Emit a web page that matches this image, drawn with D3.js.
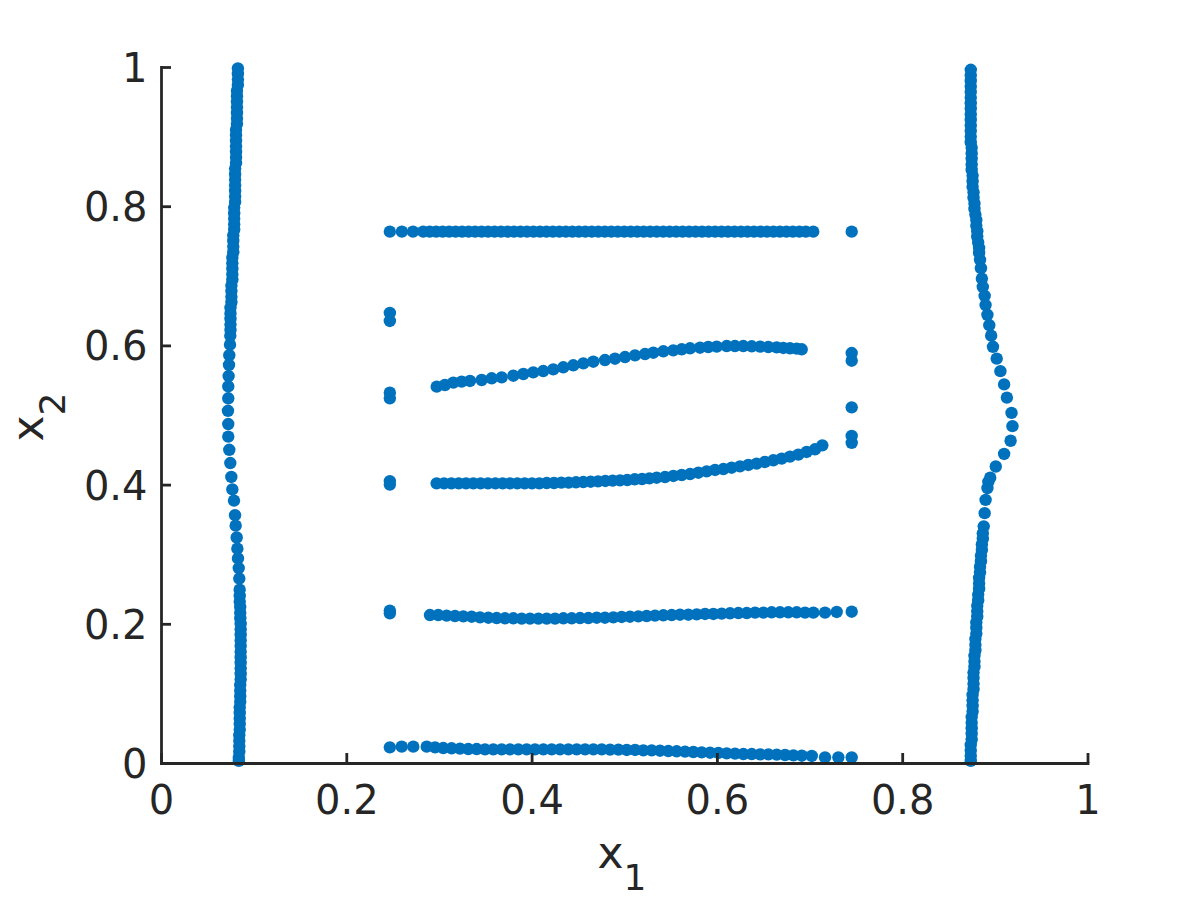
<!DOCTYPE html>
<html>
<head>
<meta charset="utf-8">
<script src="https://cdn.jsdelivr.net/npm/d3@7"></script>
<style>
  body { margin: 0; background: #fff; }
  .axis path, .axis line { stroke: #262626; stroke-width: 2.8; }
  .axis text { fill: #262626; font-family: "DejaVu Sans", sans-serif; font-size: 40px; }
  .axis-label { fill: #262626; font-family: "DejaVu Sans", sans-serif; font-size: 44px; }
  .dot { fill: #0072BD; }
</style>
</head>
<body>
<svg width="1200" height="900"></svg>
<script>
var svg = d3.select('svg');

// Tick values shared by both axes
var tickValues = [0, 0.2, 0.4, 0.6, 0.8, 1];

// Each series is a list of [x1, x2] points
var leftBand = [
  [0.083,0.998],[0.083,0.990],[0.083,0.982],[0.083,0.974],[0.082,0.966],[0.082,0.958],[0.082,0.950],[0.082,0.942],
  [0.082,0.934],[0.082,0.926],[0.082,0.918],[0.081,0.910],[0.081,0.902],[0.081,0.894],[0.081,0.886],[0.081,0.878],
  [0.081,0.870],[0.081,0.862],[0.080,0.854],[0.080,0.846],[0.080,0.838],[0.080,0.830],[0.080,0.822],[0.080,0.814],
  [0.080,0.806],[0.079,0.798],[0.079,0.790],[0.079,0.782],[0.079,0.774],[0.079,0.766],[0.078,0.758],[0.078,0.750],
  [0.078,0.742],[0.078,0.734],[0.077,0.726],[0.077,0.718],[0.077,0.710],[0.077,0.702],[0.077,0.694],[0.076,0.686],
  [0.076,0.678],[0.076,0.670],[0.076,0.662],[0.075,0.654],[0.075,0.646],[0.075,0.638],[0.075,0.630],[0.075,0.622],
  [0.0748,0.614],[0.0745,0.601],[0.0737,0.586],[0.0734,0.572],[0.0730,0.556],[0.0726,0.541],[0.0726,0.524],
  [0.0723,0.506],[0.0726,0.487],[0.0726,0.469],[0.0737,0.450],[0.0748,0.431],[0.0759,0.411],[0.0770,0.393],
  [0.0788,0.377],[0.0799,0.356],[0.0806,0.341],[0.0817,0.324],[0.0824,0.308],[0.0831,0.294],[0.0839,0.280],
  [0.0845,0.265],[0.0849,0.249],[0.085,0.240],[0.085,0.232],[0.0855,0.224],[0.0855,0.216],[0.0856,0.208],
  [0.086,0.200],[0.086,0.192],[0.086,0.184],[0.086,0.176],[0.086,0.168],[0.086,0.160],[0.086,0.152],[0.086,0.144],
  [0.086,0.136],[0.086,0.128],[0.086,0.120],[0.0855,0.112],[0.0855,0.104],[0.0855,0.096],[0.0855,0.088],
  [0.085,0.080],[0.085,0.072],[0.085,0.064],[0.085,0.056],[0.085,0.048],[0.0845,0.040],[0.0845,0.032],
  [0.0845,0.024],[0.0845,0.016],[0.084,0.008],[0.084,0.003]
];

var rightBand = [
  [0.874,0.996],[0.874,0.988],[0.874,0.980],[0.874,0.972],[0.874,0.964],[0.874,0.956],[0.874,0.948],[0.874,0.940],
  [0.874,0.932],[0.874,0.924],[0.874,0.916],[0.874,0.908],[0.874,0.900],[0.874,0.892],[0.875,0.884],[0.875,0.876],
  [0.875,0.868],[0.875,0.860],[0.875,0.852],[0.876,0.844],[0.876,0.836],[0.876,0.828],[0.877,0.820],[0.877,0.812],
  [0.878,0.804],[0.878,0.796],[0.879,0.788],[0.880,0.780],[0.880,0.772],[0.881,0.764],[0.881,0.756],[0.882,0.748],
  [0.883,0.740],[0.883,0.733],[0.884,0.723],[0.885,0.711],[0.886,0.696],[0.887,0.684],[0.889,0.671],[0.890,0.658],
  [0.892,0.644],[0.894,0.629],[0.896,0.614],[0.898,0.598],[0.902,0.581],[0.906,0.563],[0.910,0.544],[0.913,0.525],
  [0.918,0.503],[0.919,0.484],[0.917,0.463],[0.910,0.444],[0.901,0.426],[0.895,0.410],[0.893,0.404],[0.892,0.395],
  [0.890,0.378],[0.889,0.359],[0.888,0.340],[0.887,0.330],[0.887,0.322],[0.886,0.314],[0.886,0.306],[0.885,0.298],
  [0.885,0.290],[0.884,0.282],[0.884,0.274],[0.883,0.266],[0.883,0.258],[0.883,0.250],[0.882,0.242],[0.882,0.234],
  [0.881,0.226],[0.881,0.218],[0.881,0.210],[0.880,0.202],[0.880,0.194],[0.880,0.186],[0.879,0.178],[0.879,0.170],
  [0.879,0.162],[0.878,0.154],[0.878,0.146],[0.878,0.138],[0.877,0.130],[0.877,0.122],[0.877,0.114],[0.877,0.106],
  [0.876,0.098],[0.876,0.090],[0.876,0.082],[0.876,0.074],[0.875,0.066],[0.875,0.058],[0.875,0.050],[0.875,0.042],
  [0.875,0.034],[0.874,0.026],[0.874,0.018],[0.874,0.010],[0.874,0.003]
];

var rowTop = [
  [0.260,0.7634],[0.272,0.7634],[0.283,0.7634],[0.290,0.7634],[0.297,0.7634],[0.304,0.7634],[0.311,0.7634],
  [0.318,0.7634],[0.325,0.7634],[0.332,0.7634],[0.339,0.7634],[0.346,0.7634],[0.353,0.7634],[0.360,0.7634],
  [0.367,0.7634],[0.374,0.7634],[0.381,0.7634],[0.388,0.7634],[0.395,0.7634],[0.402,0.7634],[0.409,0.7634],
  [0.416,0.7634],[0.423,0.7634],[0.430,0.7634],[0.437,0.7634],[0.444,0.7634],[0.451,0.7634],[0.458,0.7634],
  [0.465,0.7634],[0.472,0.7634],[0.479,0.7634],[0.486,0.7634],[0.493,0.7634],[0.500,0.7634],[0.507,0.7634],
  [0.514,0.7634],[0.521,0.7634],[0.528,0.7634],[0.535,0.7634],[0.542,0.7634],[0.549,0.7634],[0.556,0.7634],
  [0.563,0.7634],[0.570,0.7634],[0.577,0.7634],[0.584,0.7634],[0.591,0.7634],[0.598,0.7634],[0.605,0.7634],
  [0.612,0.7634],[0.619,0.7634],[0.626,0.7634],[0.633,0.7634],[0.640,0.7634],[0.647,0.7634],[0.654,0.7634],
  [0.661,0.7634],[0.668,0.7634],[0.675,0.7634],[0.682,0.7634],[0.689,0.7634],[0.696,0.7634],[0.704,0.7634]
];

var rowUpperCurve = [
  [0.2976,0.5407],[0.3065,0.5431],[0.3155,0.5465],[0.3245,0.5479],[0.3335,0.5489],[0.3461,0.5503],[0.3569,0.5527],
  [0.3677,0.5541],[0.3803,0.5565],[0.3911,0.5589],[0.4018,0.5613],[0.4126,0.5632],[0.4234,0.5656],[0.4342,0.5685],
  [0.4450,0.5714],[0.4558,0.5742],[0.4666,0.5766],[0.4792,0.5790],[0.4900,0.5809],[0.5008,0.5833],[0.5116,0.5857],
  [0.5224,0.5876],[0.5314,0.5895],[0.5422,0.5915],[0.5529,0.5929],[0.5620,0.5944],[0.5710,0.5958],[0.5818,0.5967],
  [0.5907,0.5977],[0.5998,0.5982],[0.6106,0.5991],[0.6195,0.5991],[0.6285,0.5991],[0.6376,0.5987],[0.6465,0.5982],
  [0.6555,0.5977],[0.6645,0.5972],[0.6717,0.5963],[0.6789,0.5958],[0.6861,0.5953],[0.6915,0.5944]
];

var rowLowerCurve = [
  [0.2975,0.4018],[0.3055,0.4018],[0.3134,0.4018],[0.3213,0.4018],[0.3292,0.4018],[0.3371,0.4018],[0.3450,0.4018],
  [0.3529,0.4018],[0.3609,0.4018],[0.3688,0.4018],[0.3767,0.4018],[0.3846,0.4018],[0.3925,0.4018],[0.4004,0.4018],
  [0.4083,0.4018],[0.4163,0.4023],[0.4242,0.4023],[0.4321,0.4028],[0.4400,0.4028],[0.4479,0.4033],[0.4558,0.4037],
  [0.4638,0.4042],[0.4717,0.4047],[0.4796,0.4052],[0.4875,0.4057],[0.4954,0.4061],[0.5033,0.4066],[0.5113,0.4076],
  [0.5192,0.4080],[0.5271,0.4090],[0.5350,0.4099],[0.5440,0.4109],[0.5530,0.4124],[0.5620,0.4138],[0.5710,0.4152],
  [0.5800,0.4171],[0.5890,0.4190],[0.5980,0.4210],[0.6070,0.4224],[0.6159,0.4243],[0.6249,0.4262],[0.6339,0.4282],
  [0.6429,0.4301],[0.6519,0.4325],[0.6609,0.4349],[0.6699,0.4373],[0.6789,0.4402],[0.6879,0.4430],[0.6969,0.4469],
  [0.7059,0.4507],[0.7138,0.4564]
];

var rowMiddle = [
  [0.2903,0.2126],[0.2993,0.2126],[0.3083,0.2117],[0.3173,0.2112],[0.3263,0.2107],[0.3353,0.2102],[0.3443,0.2093],
  [0.3533,0.2088],[0.3623,0.2083],[0.3713,0.2079],[0.3803,0.2079],[0.3893,0.2074],[0.3983,0.2074],[0.4073,0.2074],
  [0.4163,0.2074],[0.4253,0.2074],[0.4343,0.2079],[0.4433,0.2079],[0.4523,0.2083],[0.4613,0.2083],[0.4703,0.2088],
  [0.4792,0.2088],[0.4882,0.2093],[0.4972,0.2098],[0.5062,0.2102],[0.5152,0.2107],[0.5242,0.2112],[0.5332,0.2117],
  [0.5422,0.2122],[0.5512,0.2126],[0.5602,0.2131],[0.5692,0.2131],[0.5782,0.2136],[0.5872,0.2141],[0.5962,0.2141],
  [0.6052,0.2146],[0.6142,0.2151],[0.6232,0.2155],[0.6322,0.2155],[0.6412,0.2160],[0.6502,0.2160],[0.6591,0.2165],
  [0.6681,0.2165],[0.6771,0.2165],[0.6861,0.2165],[0.6951,0.2160],[0.7041,0.2160],[0.7167,0.2160],[0.7293,0.2170]
];

var rowBottom = [
  [0.2598,0.0235],[0.2723,0.0235],[0.2868,0.0235],[0.2958,0.0225],[0.3047,0.0215],[0.3137,0.0211],[0.3227,0.0206],
  [0.3317,0.0201],[0.3407,0.0201],[0.3497,0.0196],[0.3587,0.0196],[0.3677,0.0196],[0.3767,0.0196],[0.3857,0.0196],
  [0.3947,0.0196],[0.4037,0.0196],[0.4127,0.0196],[0.4217,0.0196],[0.4307,0.0196],[0.4397,0.0196],[0.4487,0.0196],
  [0.4577,0.0196],[0.4667,0.0196],[0.4757,0.0196],[0.4847,0.0192],[0.4937,0.0192],[0.5027,0.0187],[0.5117,0.0187],
  [0.5206,0.0182],[0.5296,0.0182],[0.5386,0.0177],[0.5476,0.0172],[0.5566,0.0168],[0.5656,0.0163],[0.5746,0.0158],
  [0.5836,0.0153],[0.5926,0.0148],[0.6016,0.0144],[0.6106,0.0139],[0.6196,0.0134],[0.6286,0.0129],[0.6376,0.0129],
  [0.6466,0.0124],[0.6556,0.0124],[0.6646,0.0120],[0.6736,0.0115],[0.6826,0.0110],[0.6916,0.0105],[0.7024,0.0101],
  [0.7167,0.0081],[0.7311,0.0081]
];

// Isolated points stacked at x1 = 0.247 and x1 = 0.7455
var columnLeft = [
  [0.247,0.7634],[0.247,0.6466],[0.247,0.6351],[0.247,0.532],[0.247,0.524],[0.247,0.405],[0.247,0.400],
  [0.247,0.219],[0.247,0.215],[0.247,0.0225]
];
var columnRight = [
  [0.7455,0.7634],[0.7455,0.589],[0.7455,0.578],[0.7455,0.511],[0.7455,0.470],[0.7455,0.460],[0.7455,0.2174],
  [0.7455,0.0081]
];

var series = [leftBand, rightBand, rowTop, rowUpperCurve, rowLowerCurve, rowMiddle, rowBottom, columnLeft, columnRight];

// Layout
var plot = {l: 161, r: 1087.5, t: 67, b: 763};
var xScale = d3.scaleLinear().domain([0, 1]).range([plot.l, plot.r]);
var yScale = d3.scaleLinear().domain([0, 1]).range([plot.b, plot.t]);

var xAxis = d3.axisBottom(xScale).tickValues(tickValues).tickFormat(d3.format('~g'))
    .tickSizeInner(-10).tickSizeOuter(0).tickPadding(22.6);
var yAxis = d3.axisLeft(yScale).tickValues(tickValues).tickFormat(d3.format('~g'))
    .tickSizeInner(-10).tickSizeOuter(0).tickPadding(13.5);

// Points first, axes on top like the reference
var dotsG = svg.append('g');
series.forEach(function(s) {
    dotsG.selectAll(null)
        .data(s)
        .enter()
        .append('circle')
        .attr('class', 'dot')
        .attr('cx', function(d) { return xScale(d[0]); })
        .attr('cy', function(d) { return yScale(d[1]); })
        .attr('r', 6.2);
});

var xG = svg.append('g')
    .attr('class', 'x axis')
    .attr('transform', 'translate(0,' + plot.b + ')')
    .call(xAxis);

var yG = svg.append('g')
    .attr('class', 'y axis')
    .attr('transform', 'translate(' + plot.l + ',0)')
    .call(yAxis);
yG.selectAll('text').attr('dy', '0.36em');
svg.selectAll('.axis').attr('font-family', null).attr('font-size', null);
svg.selectAll('.domain').attr('stroke-linecap', 'square');

// Axis labels with subscripts
var xLabel = svg.append('text')
    .attr('class', 'axis-label')
    .attr('x', 622)
    .attr('y', 868)
    .attr('text-anchor', 'middle');
xLabel.append('tspan').text('x');
xLabel.append('tspan').attr('dy', 22).attr('font-size', 36).text('1');

var yLabel = svg.append('text')
    .attr('class', 'axis-label')
    .attr('transform', 'translate(43,417) rotate(-90)')
    .attr('text-anchor', 'middle');
yLabel.append('tspan').text('x');
yLabel.append('tspan').attr('dy', 22).attr('font-size', 36).text('2');
</script>
</body>
</html>
